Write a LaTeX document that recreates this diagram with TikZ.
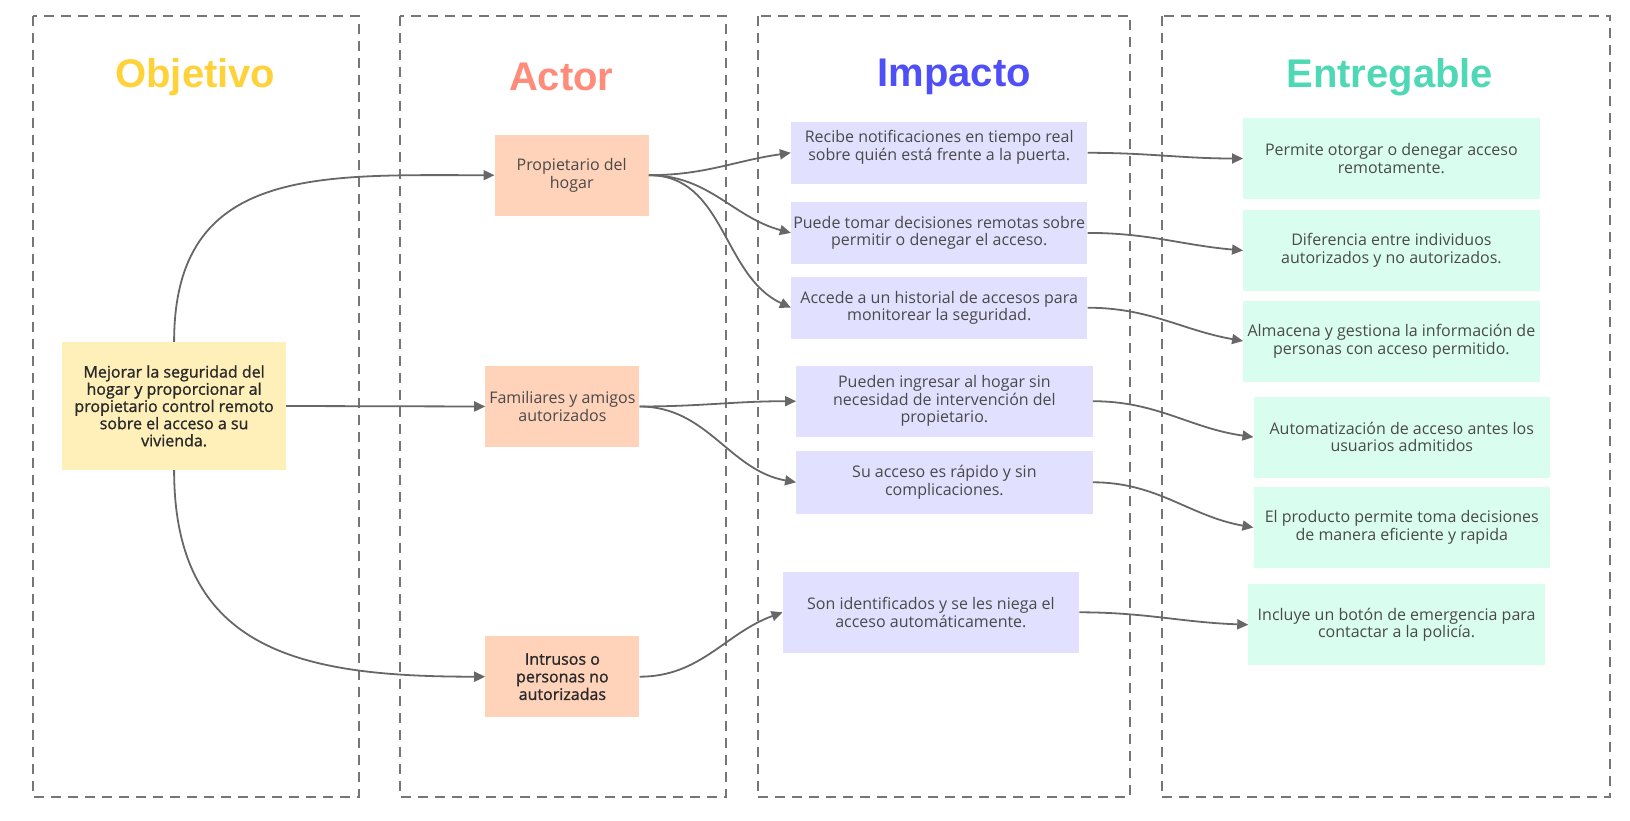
\documentclass[tikz,border=0pt]{standalone}
\usepackage{fontspec}
\setmainfont{Open Sans}
\newfontfamily\headfont{Liberation Sans}
\newfontfamily\semifont{Open Sans}[FakeBold=1.2]
\usetikzlibrary{arrows.meta}
\definecolor{lanegray}{HTML}{767676}
\definecolor{linkgray}{HTML}{676767}
\definecolor{txtgray}{HTML}{4A4A4A}
\definecolor{txtdark}{HTML}{2A2A2A}
\definecolor{objfill}{HTML}{FFF0BA}
\definecolor{actfill}{HTML}{FFD2BA}
\definecolor{impfill}{HTML}{E1E0FF}
\definecolor{entfill}{HTML}{D9FDEF}
\definecolor{objhead}{HTML}{FFD23A}
\definecolor{acthead}{HTML}{FF8B7B}
\definecolor{imphead}{HTML}{4F4FF7}
\definecolor{enthead}{HTML}{4FD8B6}
\tikzset{%
  lane/.style={draw=lanegray,line width=2pt,dash pattern=on 10pt off 7pt},
  head/.style={font=\headfont\bfseries\fontsize{40}{44}\selectfont},
  card/.style={inner sep=0pt,align=center,text=txtgray,font=\fontsize{16}{17.6}\selectfont},
  objcard/.style={card,fill=objfill,minimum width=223.5pt,minimum height=128pt,text=txtdark,font=\semifont\fontsize{16}{17.2}\selectfont},
  actcard/.style={card,fill=actfill,minimum width=154pt,minimum height=81pt},
  impcard/.style={card,fill=impfill,minimum width=296.3pt,minimum height=62.4pt},
  entcard/.style={card,fill=entfill,minimum width=296.3pt,minimum height=81pt},
  link/.style={draw=linkgray,line width=1.8pt,-{Triangle[length=11pt,width=10pt]}}
}

\begin{document}
\begin{tikzpicture}[x=1pt,y=-1pt]
  \useasboundingbox (0,0) rectangle (1630,821);
  % columns
  \draw[lane] (33.3,15.6) rectangle (358.6,797.3);
  \draw[lane] (400.2,15.6) rectangle (725.6,797.3);
  \draw[lane] (757.8,15.6) rectangle (1130,797.3);
  \draw[lane] (1162,15.6) rectangle (1610.2,797.3);
  \path
    (195.4,77) node[head,text=objhead] (h_obj) {Objetivo}
    (561.3,77) node[head,text=acthead] (h_act) {Actor}
    (954.3,77) node[head,text=imphead] (h_imp) {Impacto}
    (1389.8,77) node[head,text=enthead] (h_ent) {Entregable};
  % objetivo and actors
  \path
    (174.1,406) node[objcard] (obj) {Mejorar la seguridad del\\hogar y proporcionar al\\propietario control remoto\\sobre el acceso a su\\vivienda.}
    (571.7,175.2) node[actcard] (a_1) {Propietario del\\hogar}
    (562.4,406.5) node[actcard] (a_2) {Familiares y amigos\\autorizados}
    (562.4,676.7) node[actcard,text=txtdark,font=\semifont\fontsize{16}{17.6}\selectfont] (a_3) {Intrusos o\\personas no\\autorizadas};
  % impacts
  \path
    (939.2,152.8) node[impcard,text depth=15pt] (i_1) {Recibe notificaciones en tiempo real\\sobre quién está frente a la puerta.}
    (939.2,232.9) node[impcard] (i_2) {Puede tomar decisiones remotas sobre\\permitir o denegar el acceso.}
    (939.2,307.7) node[impcard] (i_3) {Accede a un historial de accesos para\\monitorear la seguridad.}
    (944.4,401.2) node[impcard,minimum height=70.7pt] (i_4) {Pueden ingresar al hogar sin\\necesidad de intervención del\\propietario.}
    (944.4,482.3) node[impcard] (i_5) {Su acceso es rápido y sin\\complicaciones.}
    (930.9,612.3) node[impcard,minimum height=81pt] (i_6) {Son identificados y se les niega el\\acceso automáticamente.};
  % deliverables
  \path
    (1391.4,158.5) node[entcard] (e_1) {Permite otorgar o denegar acceso\\remotamente.}
    (1391.4,250.5) node[entcard] (e_2) {Diferencia entre individuos\\autorizados y no autorizados.}
    (1391.4,341) node[entcard] (e_3) {Almacena y gestiona la información de\\personas con acceso permitido.}
    (1401.8,437.1) node[entcard] (e_4) {Automatización de acceso antes los\\usuarios admitidos}
    (1401.8,527.5) node[entcard] (e_5) {El producto permite toma decisiones\\de manera eficiente y rapida}
    (1396.6,624.7) node[entcard] (e_6) {Incluye un botón de emergencia para\\contactar a la policía.};
  \draw[link] (obj.north) to[out=90,in=180,looseness=1.25] (a_1.west);
  \draw[link] (obj.east) -- (a_2.west);
  \draw[link] (obj.south) to[out=-90,in=180,looseness=1.25] (a_3.west);
  \draw[link] (a_1.east) to[out=0,in=188] (i_1.west);
  \draw[link] (a_1.east) to[out=0,in=165] (i_2.west);
  \draw[link] (a_1.east) to[out=0,in=155] (i_3.west);
  \draw[link] (a_2.east) to[out=0,in=180] (i_4.west);
  \draw[link] (a_2.east) to[out=0,in=170] (i_5.west);
  \draw[link] (a_3.east) to[out=0,in=200] (i_6.west);
  \draw[link] (i_1.east) to[out=0,in=180] (e_1.west);
  \draw[link] (i_2.east) to[out=0,in=175] (e_2.west);
  \draw[link] (i_3.east) to[out=0,in=170] (e_3.west);
  \draw[link] (i_4.east) to[out=0,in=172] (e_4.west);
  \draw[link] (i_5.east) to[out=0,in=170] (e_5.west);
  \draw[link] (i_6.east) to[out=0,in=178] (e_6.west);
\end{tikzpicture}
\end{document}
